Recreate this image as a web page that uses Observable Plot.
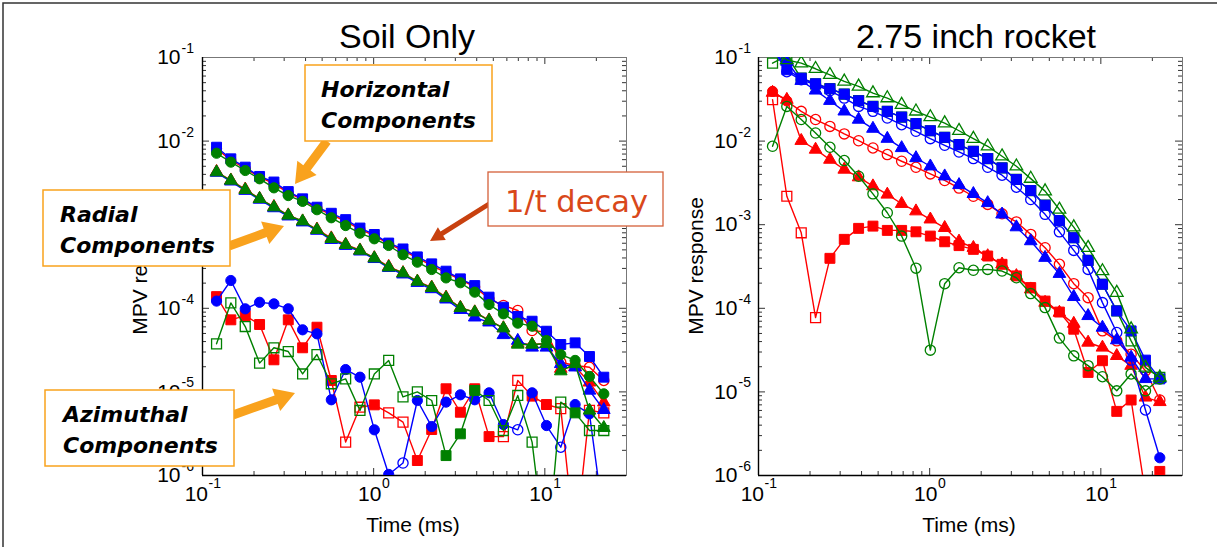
<!DOCTYPE html>
<html><head><meta charset="utf-8">
<script src="https://cdn.jsdelivr.net/npm/d3@7"></script>
<script src="https://cdn.jsdelivr.net/npm/@observablehq/plot@0.6"></script>
<style>
html,body{margin:0;padding:0;background:#fff;}
#wrap{position:relative;width:1217px;height:547px;overflow:hidden;background:#fff;}
#wrap > svg{position:absolute;}
</style></head><body><div id="wrap"></div>
<script>
// Gate times (ms)
const times = [0.1208,0.1464,0.1777,0.2155,0.2614,0.3170,0.3845,0.4663,0.5656,0.6860,0.8318,1.009,1.224,1.484,1.800,2.183,2.648,3.211,3.895,4.723,5.728,6.948,8.426,10.22,12.39,15.03,18.23,22.11];

// Values: negative sign = open (negative) marker, positive = filled marker
// ---- Soil Only ----
const soilBlueSquare = [8.45e-3,6.14e-3,4.88e-3,3.78e-3,3.24e-3,2.49e-3,2.04e-3,1.62e-3,1.37e-3,1.15e-3,9.12e-4,7.64e-4,6.03e-4,5.13e-4,4.12e-4,3.40e-4,2.78e-4,2.25e-4,1.87e-4,1.36e-4,1.03e-4,7.98e-5,7.01e-5,5.32e-5,3.69e-5,3.86e-5,2.65e-5,1.50e-5];
const soilGreenCircle = [7.16e-3,5.60e-3,4.45e-3,3.54e-3,2.76e-3,2.23e-3,1.90e-3,1.51e-3,1.21e-3,9.77e-4,7.91e-4,6.78e-4,5.64e-4,4.37e-4,3.56e-4,2.91e-4,2.31e-4,2.02e-4,1.56e-4,1.11e-4,8.59e-5,6.64e-5,6.11e-5,4.12e-5,2.80e-5,2.38e-5,1.53e-5,9.48e-6];
const soilRedCircle = [8.1e-3,5.9e-3,4.7e-3,3.7e-3,3.1e-3,2.4e-3,2.0e-3,1.58e-3,1.32e-3,1.10e-3,8.8e-4,7.4e-4,5.9e-4,4.9e-4,4.0e-4,3.25e-4,2.68e-4,2.2e-4,1.8e-4,1.30e-4,-1.08e-4,-9.42e-5,-5.42e-5,-5.19e-5,-2.26e-5,-2.07e-5,-1.97e-5,-1.37e-5];
const soilGreenTriangle = [4.25e-3,3.38e-3,2.61e-3,2.04e-3,1.62e-3,1.29e-3,1.10e-3,8.69e-4,6.78e-4,5.74e-4,4.91e-4,3.98e-4,3.10e-4,2.63e-4,2.09e-4,1.76e-4,1.33e-4,1.01e-4,8.97e-5,7.14e-5,5.78e-5,3.69e-5,3.69e-5,3.76e-5,1.77e-5,2.16e-5,6.0e-6,3.72e-6];
const soilBlueTriangle = [4.2e-3,3.3e-3,2.55e-3,2.0e-3,1.58e-3,1.26e-3,1.07e-3,8.5e-4,6.6e-4,5.6e-4,4.8e-4,3.9e-4,3.05e-4,2.55e-4,2.02e-4,1.70e-4,1.28e-4,9.6e-5,7.8e-5,6.8e-5,4.8e-5,4.1e-5,3.4e-5,3.4e-5,2.16e-5,1.97e-5,1.04e-5,6.1e-6];
const soilRedTriangle = [4.3e-3,3.4e-3,2.65e-3,2.05e-3,1.64e-3,1.3e-3,1.1e-3,8.8e-4,6.9e-4,5.8e-4,4.95e-4,4.0e-4,3.15e-4,2.65e-4,2.1e-4,1.78e-4,1.35e-4,1.02e-4,9.0e-5,7.2e-5,5.8e-5,3.8e-5,3.7e-5,3.8e-5,1.9e-5,2.0e-5,1.3e-5,7.5e-6];
const soilBlueCircle = [1.22e-4,2.15e-4,9.86e-5,1.18e-4,1.13e-4,9.86e-5,5.53e-5,4.95e-5,8.05e-6,1.85e-5,1.50e-5,3.52e-6,1.03e-6,-1.41e-6,7.89e-6,3.85e-6,7.55e-6,9.23e-6,8.05e-6,9.75e-6,4.07e-6,-3.52e-6,9.75e-6,3.96e-6,-2.18e-6,7.06e-6,5.47e-6,2.9e-7];
const soilRedSquare = [1.38e-4,7.28e-5,8.18e-5,6.40e-5,2.42e-5,7.28e-5,3.37e-5,5.94e-5,1.37e-5,-2.51e-6,-6.56e-6,7.0e-6,-5.61e-6,-4.35e-6,1.51e-6,3.55e-6,1.09e-5,5.71e-6,1.09e-5,2.92e-6,-2.92e-6,-1.37e-5,8.9e-6,7.06e-6,-6.3e-6,1.5e-7,-6.03e-6,-5.62e-6];
const soilGreenSquare = [-3.76e-5,-1.16e-4,-6.05e-5,-2.21e-5,-3.37e-5,-3.04e-5,-1.64e-5,-2.80e-5,-1.25e-5,-1.43e-5,-6.0e-6,-1.64e-5,-2.38e-5,-8.71e-6,-1.0e-5,-7.89e-6,1.73e-6,3.15e-6,1.04e-5,-7.89e-6,-3.45e-6,-9.06e-6,-2.51e-6,9.5e-8,-7.55e-6,5.61e-6,-3.45e-6,-3.45e-6];

// ---- 2.75 inch rocket ----
const rocketBlueSquare = [0.14,7.13e-2,5.66e-2,4.85e-2,4.23e-2,3.65e-2,3.04e-2,2.60e-2,2.27e-2,1.94e-2,1.62e-2,1.33e-2,1.11e-2,9.08e-3,7.55e-3,6.18e-3,4.78e-3,3.48e-3,2.56e-3,1.71e-3,1.12e-3,6.98e-4,3.75e-4,1.94e-4,9.31e-5,5.37e-5,2.40e-5,1.43e-5];
const rocketBlueCircle = [-0.13,-6.76e-2,-5.41e-2,-4.72e-2,-4.0e-2,-3.27e-2,-2.60e-2,-2.27e-2,-1.89e-2,-1.57e-2,-1.31e-2,-1.07e-2,-8.91e-3,-7.41e-3,-6.18e-3,-4.86e-3,-3.91e-3,-2.81e-3,-2.0e-3,-1.33e-3,-8.22e-4,-4.93e-4,-2.92e-4,-1.17e-4,-5.13e-5,-2.4e-5,-6.08e-6,1.63e-6];
const rocketBlueTriangle = [0.13,8.95e-2,5.27e-2,4.04e-2,3.04e-2,2.27e-2,1.81e-2,1.41e-2,1.07e-2,8.28e-3,6.28e-3,5.0e-3,3.80e-3,2.99e-3,2.34e-3,1.82e-3,1.33e-3,9.35e-4,6.37e-4,4.03e-4,2.59e-4,1.37e-4,8.11e-5,5.89e-5,4.16e-5,2.58e-5,1.43e-5,1.43e-5];
const rocketRedCircle = [3.93e-2,3.02e-2,-2.27e-2,-1.81e-2,-1.50e-2,-1.22e-2,-1.01e-2,-8.28e-3,-6.90e-3,-5.74e-3,-4.86e-3,-4.05e-3,-3.38e-3,-2.74e-3,-2.19e-3,-1.75e-3,-1.35e-3,-1.08e-3,-7.66e-4,-5.30e-4,-3.36e-4,-1.97e-4,-1.34e-4,-5.37e-5,-4.08e-5,-2.83e-5,-1.79e-5,-8.0e-6];
const rocketRedTriangle = [3.8e-2,3.13e-2,1.01e-2,7.93e-3,6.01e-3,4.57e-3,3.70e-3,2.89e-3,2.30e-3,1.78e-3,1.45e-3,1.16e-3,9.18e-4,6.31e-4,5.30e-4,4.22e-4,3.36e-4,2.44e-4,1.69e-4,1.17e-4,8.89e-5,6.56e-5,3.90e-5,3.40e-5,2.70e-5,2.06e-5,8.59e-6,7.59e-6];
const rocketRedSquare = [-3.13e-2,-2.19e-3,-8.0e-4,-7.74e-5,3.96e-4,6.68e-4,9.04e-4,9.62e-4,8.55e-4,8.55e-4,8.22e-4,7.31e-4,6.25e-4,5.62e-4,5.07e-4,4.22e-4,3.36e-4,2.44e-4,1.77e-4,1.22e-4,9.02e-5,5.62e-5,1.71e-5,2.36e-5,5.85e-6,8.0e-6,6e-7,1.12e-6];
const rocketGreenCircle = [-8.67e-3,-2.60e-2,-1.81e-2,-1.25e-2,-8.43e-3,-5.85e-3,-3.80e-3,-2.34e-3,-1.39e-3,-7.31e-4,-3.02e-4,-3.16e-5,-1.97e-4,-3.06e-4,-2.85e-4,-2.92e-4,-2.79e-4,-2.32e-4,-1.50e-4,-1.02e-4,-4.40e-5,-2.70e-5,-2.06e-5,-1.52e-5,-1.03e-5,-1.64e-5,-1.03e-5,-1.43e-5];
const rocketGreenTriangle = [-0.13,-9.33e-2,-8.55e-2,-7.33e-2,-6.21e-2,-5.18e-2,-4.51e-2,-3.75e-2,-3.27e-2,-2.73e-2,-2.27e-2,-1.94e-2,-1.64e-2,-1.33e-2,-1.07e-2,-8.67e-3,-6.59e-3,-5.0e-3,-3.56e-3,-2.52e-3,-1.52e-3,-9.35e-4,-5.30e-4,-2.79e-4,-1.54e-4,-5.62e-5,-1.96e-5,-1.49e-5];
const rocketGreenSquare = [-8.55e-2,-0.105,-5.66e-2,-4.85e-2,-4.23e-2,-3.65e-2,-3.04e-2,-2.60e-2,-2.27e-2,-1.94e-2,-1.62e-2,-1.33e-2,-1.11e-2,-9.08e-3,-7.55e-3,-6.18e-3,-4.78e-3,-3.48e-3,-2.56e-3,-1.71e-3,-1.12e-3,-6.98e-4,-3.75e-4,-1.94e-4,-9.31e-5,-4.08e-5,-1.96e-5,-1.49e-5];

// Axis ticks
const xMajor = [0.1, 1, 10];
const xMinor = [0.2,0.3,0.4,0.5,0.6,0.7,0.8,0.9,2,3,4,5,6,7,8,9,20];
const yMajor = [1e-6,1e-5,1e-4,1e-3,1e-2,1e-1];
const yMinor = [2e-6,3e-6,4e-6,5e-6,6e-6,7e-6,8e-6,9e-6,2e-5,3e-5,4e-5,5e-5,6e-5,7e-5,8e-5,9e-5,2e-4,3e-4,4e-4,5e-4,6e-4,7e-4,8e-4,9e-4,2e-3,3e-3,4e-3,5e-3,6e-3,7e-3,8e-3,9e-3,2e-2,3e-2,4e-2,5e-2,6e-2,7e-2,8e-2,9e-2];
const xTickExp = ["-1","0","1"];
const yTickExp = ["-6","-5","-4","-3","-2","-1"];

const titles = ["Soil Only", "2.75 inch rocket"];
const xLabel = "Time (ms)";
const yLabel = "MPV response";

const COLORS = {blue:"#0000ff", red:"#ff0000", green:"#008000"};
const SYM = {square:{symbol:"square", r:5.6}, circle:{symbol:"circle", r:5.1}, triangle:{symbol:"triangle", r:4.7}};
const FONT = "'Liberation Sans', Arial, sans-serif";

const soilSeries = [
  [soilRedSquare,"red","square"],[soilRedCircle,"red","circle"],[soilRedTriangle,"red","triangle"],
  [soilBlueCircle,"blue","circle"],[soilBlueTriangle,"blue","triangle"],[soilBlueSquare,"blue","square"],
  [soilGreenSquare,"green","square"],[soilGreenCircle,"green","circle"],[soilGreenTriangle,"green","triangle"]
];
const rocketSeries = [
  [rocketGreenSquare,"green","square"],
  [rocketRedSquare,"red","square"],[rocketRedTriangle,"red","triangle"],[rocketRedCircle,"red","circle"],
  [rocketBlueCircle,"blue","circle"],[rocketBlueTriangle,"blue","triangle"],[rocketBlueSquare,"blue","square"],
  [rocketGreenCircle,"green","circle"],[rocketGreenTriangle,"green","triangle"]
];

const IW = 424, IH = 418, ML = 100, MR = 20, MT = 20, MB = 70;

function seriesMarks(values, color, shape) {
  const rows = times.map((t, i) => ({t, v: Math.abs(values[i]), filled: values[i] > 0}));
  const c = COLORS[color], s = SYM[shape];
  return [
    Plot.line(rows, {x: "t", y: "v", stroke: c, strokeWidth: 1.4, clip: true}),
    Plot.dot(rows.filter(d => d.filled), {x: "t", y: "v", symbol: s.symbol, r: s.r, fill: c, stroke: c, strokeWidth: 1, clip: true}),
    Plot.dot(rows.filter(d => !d.filled), {x: "t", y: "v", symbol: s.symbol, r: s.r, fill: "none", stroke: c, strokeWidth: 1.3, clip: true})
  ];
}

function panel(series, yLabDx) {
  const marks = [];
  marks.push(Plot.tickX(xMinor, {insetTop: IH - 4, stroke: "#333"}));
  marks.push(Plot.tickX(xMinor, {insetBottom: IH - 4, stroke: "#333"}));
  marks.push(Plot.tickX(xMajor, {insetTop: IH - 7, stroke: "#333"}));
  marks.push(Plot.tickX(xMajor, {insetBottom: IH - 7, stroke: "#333"}));
  marks.push(Plot.tickY(yMinor, {insetRight: IW - 4, stroke: "#333"}));
  marks.push(Plot.tickY(yMinor, {insetLeft: IW - 4, stroke: "#333"}));
  marks.push(Plot.tickY(yMajor, {insetRight: IW - 7, stroke: "#333"}));
  marks.push(Plot.tickY(yMajor, {insetLeft: IW - 7, stroke: "#333"}));
  marks.push(Plot.frame({stroke: "#777", strokeWidth: 1}));
  marks.push(Plot.ruleX([0.1], {stroke: "#000", strokeWidth: 1.4}));
  marks.push(Plot.ruleY([1e-6], {stroke: "#000", strokeWidth: 1.4}));
  for (const [vals, color, shape] of series) marks.push(...seriesMarks(vals, color, shape));
  marks.push(Plot.text(yMajor, {y: d => d, frameAnchor: "left", dx: yLabDx, textAnchor: "end", text: () => "10", fontSize: 21, fontFamily: FONT, fill: "#000"}));
  marks.push(Plot.text(yMajor, {y: d => d, frameAnchor: "left", dx: yLabDx + 1, dy: -9, textAnchor: "start", text: (d, i) => yTickExp[i], fontSize: 14, fontFamily: FONT, fill: "#000"}));
  xMajor.forEach((v, i) => {
    const e = xTickExp[i];
    const ew = e.length > 1 ? 12.4 : 7.8;
    const total = 23.4 + ew;
    const start = -total / 2;
    marks.push(Plot.text([v], {x: d => d, frameAnchor: "bottom", dx: start + 11.7, dy: 25, textAnchor: "middle", text: () => "10", fontSize: 21, fontFamily: FONT, fill: "#000"}));
    marks.push(Plot.text([v], {x: d => d, frameAnchor: "bottom", dx: start + 24, dy: 12, textAnchor: "start", text: () => e, fontSize: 14, fontFamily: FONT, fill: "#000"}));
  });
  return Plot.plot({
    width: ML + IW + MR, height: MT + IH + MB,
    marginLeft: ML, marginRight: MR, marginTop: MT, marginBottom: MB,
    x: {type: "log", domain: [0.1, 30], axis: null},
    y: {type: "log", domain: [1e-6, 1e-1], axis: null},
    style: {background: "transparent", overflow: "visible"},
    marks
  });
}

const wrap = document.getElementById("wrap");
const p1 = panel(soilSeries, -22);
p1.style.left = (202 - ML) + "px"; p1.style.top = (57 - MT) + "px";
wrap.appendChild(p1);
const p2 = panel(rocketSeries, -21);
p2.style.left = (758 - ML) + "px"; p2.style.top = (57 - MT) + "px";
wrap.appendChild(p2);

function arrowPts(x1, y1, x2, y2, sw, hw, hl) {
  const dx = x2 - x1, dy = y2 - y1, L = Math.hypot(dx, dy), ux = dx / L, uy = dy / L, px = -uy, py = ux;
  const bx = x2 - ux * hl, by = y2 - uy * hl;
  const pts = [[x1 + px * sw / 2, y1 + py * sw / 2], [bx + px * sw / 2, by + py * sw / 2], [bx + px * hw / 2, by + py * hw / 2], [x2, y2],
    [bx - px * hw / 2, by - py * hw / 2], [bx - px * sw / 2, by - py * sw / 2], [x1 - px * sw / 2, y1 - py * sw / 2]];
  return pts.map(p => p[0].toFixed(1) + "," + p[1].toFixed(1)).join(" ");
}
const ORANGE = "#F9A21D";
const ann = "font-family:'DejaVu Sans',sans-serif;font-size:22px;font-weight:bold;font-style:italic;";
const ov = `
<svg xmlns="http://www.w3.org/2000/svg" width="1217" height="547" style="left:0;top:0;pointer-events:none">
  <path d="M3,547 V3 H1217" fill="none" stroke="#333" stroke-width="1.5"/>
  <text x="407" y="48" text-anchor="middle" style="font-family:${FONT};font-size:34px" fill="#000">${titles[0]}</text>
  <text x="976" y="48" text-anchor="middle" style="font-family:${FONT};font-size:34px" fill="#000">${titles[1]}</text>
  <text x="413" y="532" text-anchor="middle" style="font-family:${FONT};font-size:21px" fill="#000">${xLabel}</text>
  <text x="969" y="532" text-anchor="middle" style="font-family:${FONT};font-size:21px" fill="#000">${xLabel}</text>
  <text transform="translate(147,266) rotate(-90)" text-anchor="middle" style="font-family:${FONT};font-size:21px" fill="#000">${yLabel}</text>
  <text transform="translate(703,266) rotate(-90)" text-anchor="middle" style="font-family:${FONT};font-size:21px" fill="#000">${yLabel}</text>

  <polygon points="${arrowPts(327,141,295,184,9,24,20)}" fill="${ORANGE}"/>
  <polygon points="${arrowPts(229,246,284,226,9,24,20)}" fill="${ORANGE}"/>
  <polygon points="${arrowPts(233,415,295,393,9,24,20)}" fill="${ORANGE}"/>
  <polygon points="${arrowPts(489,204,430,241,5,15,14)}" fill="#C8410F"/>

  <rect x="305" y="65" width="187" height="76" fill="#fff" stroke="${ORANGE}" stroke-width="1.5"/>
  <text x="321" y="97" style="${ann}" fill="#000">Horizontal</text>
  <text x="321" y="128" style="${ann}" fill="#000">Components</text>

  <rect x="43" y="190" width="187" height="76" fill="#fff" stroke="${ORANGE}" stroke-width="1.5"/>
  <text x="60" y="222" style="${ann}" fill="#000">Radial</text>
  <text x="60" y="253" style="${ann}" fill="#000">Components</text>

  <rect x="45" y="390" width="189" height="76" fill="#fff" stroke="${ORANGE}" stroke-width="1.5"/>
  <text x="63" y="422" style="${ann}" fill="#000">Azimuthal</text>
  <text x="63" y="453" style="${ann}" fill="#000">Components</text>

  <rect x="488" y="172" width="175" height="54" fill="#fff" stroke="#D4603A" stroke-width="1.3"/>
  <text x="505" y="212" style="font-family:'DejaVu Sans',sans-serif;font-size:30.5px" fill="#D9481A">1/t decay</text>
</svg>`;
wrap.insertAdjacentHTML("beforeend", ov);
</script>
</body></html>
